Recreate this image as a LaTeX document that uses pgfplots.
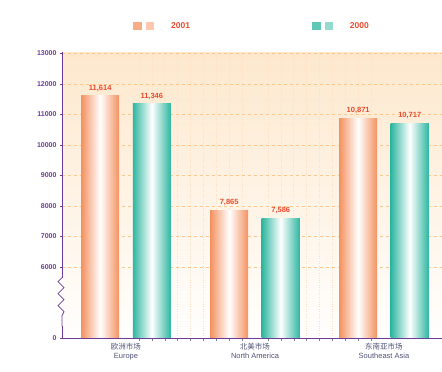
\documentclass[border=0pt]{standalone}
\usepackage{pgfplots}
\pgfplotsset{compat=1.18}
\usepackage{fontspec}
\setmainfont{Liberation Sans}
\newfontfamily\cjk{Noto Sans CJK SC}
\definecolor{barO}{RGB}{243,145,95}
\definecolor{barT}{RGB}{45,182,160}
\definecolor{lblR}{RGB}{235,75,45}
\definecolor{axP}{RGB}{110,60,150}
\definecolor{bgP}{RGB}{253,232,205}
\definecolor{xlab}{RGB}{80,80,120}
\begin{document}
\begin{tikzpicture}
\path[use as bounding box] (-62pt,-34pt) rectangle (380pt,338pt);
\begin{axis}[
  at={(0,0)}, anchor=south west,
  scale only axis, width=380pt, height=286pt,
  xmin=-0.496, xmax=2.45,
  ymin=3672, ymax=13050,
  ybar,
  clip mode=individual,
  axis x line*=bottom, axis y line*=left,
  axis line style={axP, line width=0.8pt},
  axis background/.style={top color=bgP, bottom color=white!97!bgP},
  xtick={0,1,2},
  xticklabels={{{\cjk 欧洲市场}\\Europe},{{\cjk 北美市场}\\North America},{{\cjk 东南亚市场}\\Southeast Asia}},
  xticklabel style={align=center, font=\fontsize{7.5}{9}\selectfont, text=xlab},
  major x tick style={draw=none},
  minor x tick num=9,
  xminorgrids, minor x grid style={dotted, orange!25, line width=0.4pt},
  ytick={3672,6000,7000,8000,9000,10000,11000,12000,13000},
  yticklabels={0,6000,7000,8000,9000,10000,11000,12000,13000},
  scaled y ticks=false,
  yticklabel style={font=\fontsize{7}{8}\selectfont\bfseries, text=axP},
  /pgf/number format/assume math mode=true,
  ytick style={axP},
  tick align=outside, major tick length=2pt,
  ymajorgrids, major grid style={dashed, orange!45, line width=0.4pt},
  bar width=0.295,
  legend style={at={(0.5,1)}, anchor=south, yshift=18pt, draw=none, fill=none,
    font=\fontsize{8.5}{9}\selectfont\bfseries, text=lblR, legend columns=2,
    /tikz/every even column/.append style={column sep=120pt}},
  nodes near coords, point meta=explicit symbolic,
  every node near coord/.append style={font=\fontsize{7.5}{8}\selectfont\bfseries, text=lblR, yshift=1pt},
  oBar/.style={bar shift=-0.2, draw=none, left color=barO, right color=barO, middle color=white},
  tBar/.style={bar shift=0.2, draw=none, left color=barT, right color=barT, middle color=white},
]
\addplot[oBar,
  legend image code/.code={%
    \pgfsetfillcolor{barO!75}\pgfpathrectangle{\pgfpoint{0pt}{-4pt}}{\pgfpoint{9pt}{8pt}}\pgfusepath{fill}%
    \pgfsetfillcolor{barO!50}\pgfpathrectangle{\pgfpoint{13pt}{-4pt}}{\pgfpoint{8pt}{8pt}}\pgfusepath{fill}%
    \pgfpathrectangle{\pgfpoint{0pt}{0pt}}{\pgfpoint{36pt}{0.1pt}}\pgfusepath{}}]
  coordinates {(0,11614) [11,614]};
\addlegendentry{2001}
\addplot[tBar,
  legend image code/.code={%
    \pgfsetfillcolor{barT!75}\pgfpathrectangle{\pgfpoint{0pt}{-4pt}}{\pgfpoint{9pt}{8pt}}\pgfusepath{fill}%
    \pgfsetfillcolor{barT!50}\pgfpathrectangle{\pgfpoint{13pt}{-4pt}}{\pgfpoint{8pt}{8pt}}\pgfusepath{fill}%
    \pgfpathrectangle{\pgfpoint{0pt}{0pt}}{\pgfpoint{36pt}{0.1pt}}\pgfusepath{}}]
  coordinates {(0,11346) [11,346]};
\addlegendentry{2000}
\addplot[oBar, forget plot] coordinates {(1,7865) [7,865]};
\addplot[tBar, forget plot] coordinates {(1,7586) [7,586]};
\addplot[oBar, forget plot] coordinates {(2,10871) [10,871]};
\addplot[tBar, forget plot] coordinates {(2,10717) [10,717]};
\draw[white, line width=3pt] (axis cs:-0.496,4050) -- (axis cs:-0.496,5650);
\draw[axP, line width=0.8pt] (axis cs:-0.496,5650) -- ++(-4pt,-4pt) -- ++(6pt,-6pt) -- ++(-6pt,-6pt) -- ++(6pt,-6pt) -- ++(-6pt,-6pt) -- ++(6pt,-6pt) -- ++(-2pt,-4pt) -- (axis cs:-0.496,4050);
\end{axis}
\end{tikzpicture}
\end{document}
